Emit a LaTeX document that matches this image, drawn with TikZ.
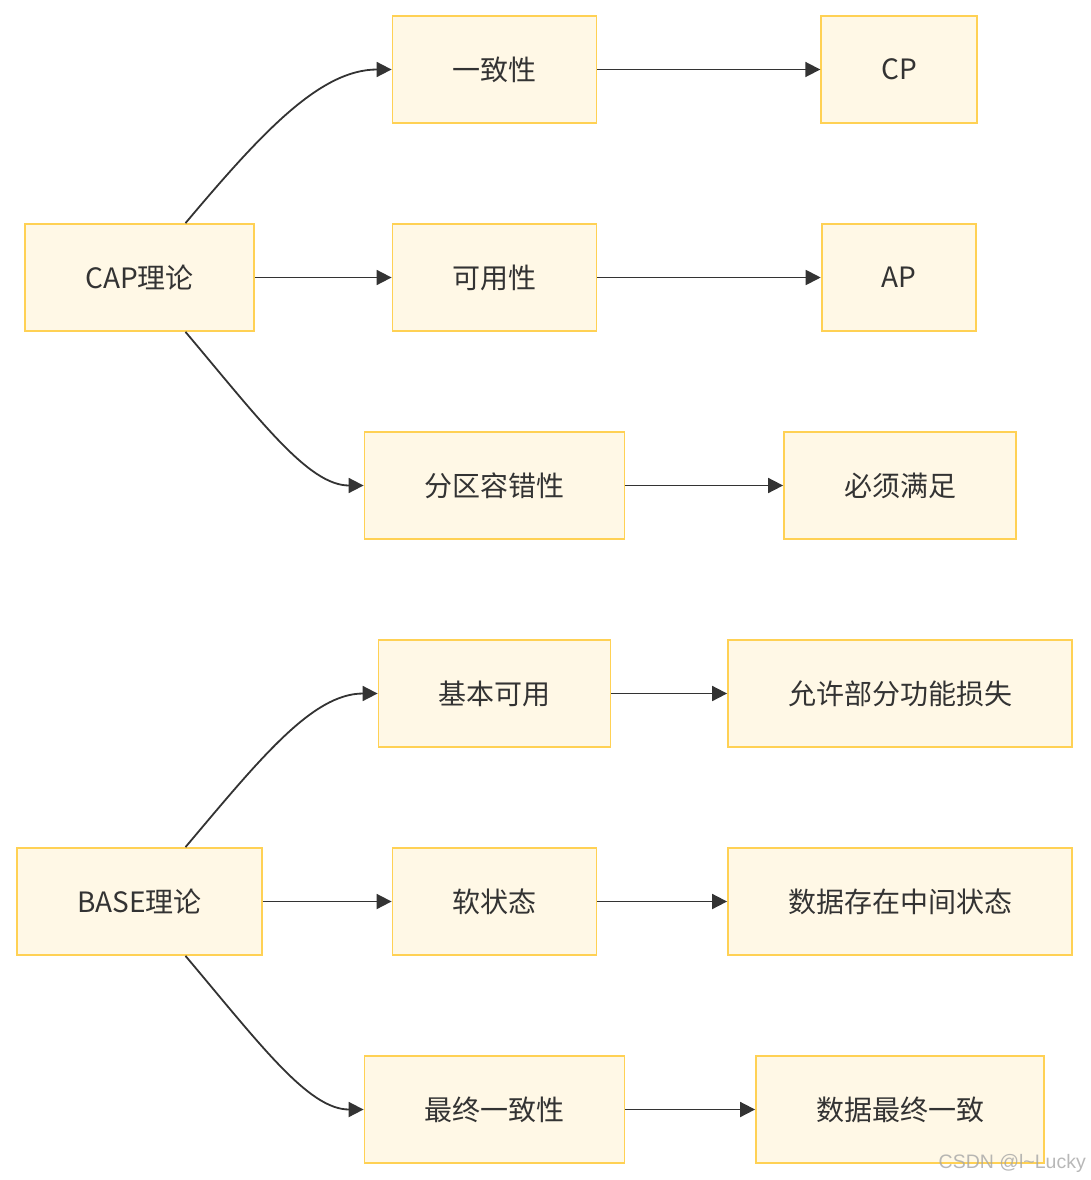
\documentclass[tikz,border=0pt]{standalone}
\usepackage{fontspec}
\setmainfont{Noto Sans CJK SC}
\newfontfamily\markfont{Liberation Sans}
\usetikzlibrary{arrows.meta}
\definecolor{boxfill}{HTML}{FFF8E6}
\definecolor{boxline}{HTML}{FFD154}
\definecolor{linkcol}{HTML}{333333}
\tikzset{
term/.style={rectangle,draw=boxline,fill=boxfill,line width=1.8pt,
minimum height=107pt,inner xsep=60pt,inner ysep=0pt,
text=linkcol,font=\fontsize{28}{32}\selectfont},
link/.style={draw=linkcol,line width=1.8pt,-{Triangle[length=15pt,width=15pt]}}
}
\begin{document}
\begin{tikzpicture}[x=1pt,y=-1pt]
\useasboundingbox (0,0) rectangle (1090,1180);

\node[term] (CAP) at(139.5,277.5){CAP理论};
\node[term] (CONS) at(494.5,69.5){一致性};
\node[term] (AVAIL) at(494.5,277.5){可用性};
\node[term] (PART) at(494.5,485.5){分区容错性};
\node[term] (CP) at(899,69.5){CP};
\node[term] (AP) at(899,277.5){AP};
\node[term] (MUST) at(900,485.5){必须满足};

\node[term] (BASE) at(139.5,901.5){BASE理论};
\node[term] (BA) at(494.5,693.5){基本可用};
\node[term] (SS) at(494.5,901.5){软状态};
\node[term] (EC) at(494.5,1109.5){最终一致性};
\node[term] (LOSS) at(900,693.5){允许部分功能损失};
\node[term] (MID) at(900,901.5){数据存在中间状态};
\node[term] (FIN) at(900,1109.5){数据最终一致};

\draw[link] ([xshift=46pt]CAP.north) .. controls +(75,-89) and +(-72,0) .. (CONS.west);
\draw[link] (CAP) -- (AVAIL);
\draw[link] ([xshift=46pt]CAP.south) .. controls +(75,89) and +(-55,0) .. (PART.west);
\draw[link] (CONS) -- (CP);
\draw[link] (AVAIL) -- (AP);
\draw[link] (PART) -- (MUST);

\draw[link] ([xshift=46pt]BASE.north) .. controls +(75,-89) and +(-65,0) .. (BA.west);
\draw[link] (BASE) -- (SS);
\draw[link] ([xshift=46pt]BASE.south) .. controls +(75,89) and +(-55,0) .. (EC.west);
\draw[link] (BA) -- (LOSS);
\draw[link] (SS) -- (MID);
\draw[link] (EC) -- (FIN);

\node[anchor=south east,inner sep=0pt,text=black!35,opacity=0.8,
font=\markfont\fontsize{19.5}{22}\selectfont] (WM) at(1086,1173){CSDN @l\textasciitilde Lucky};
\end{tikzpicture}
\end{document}
